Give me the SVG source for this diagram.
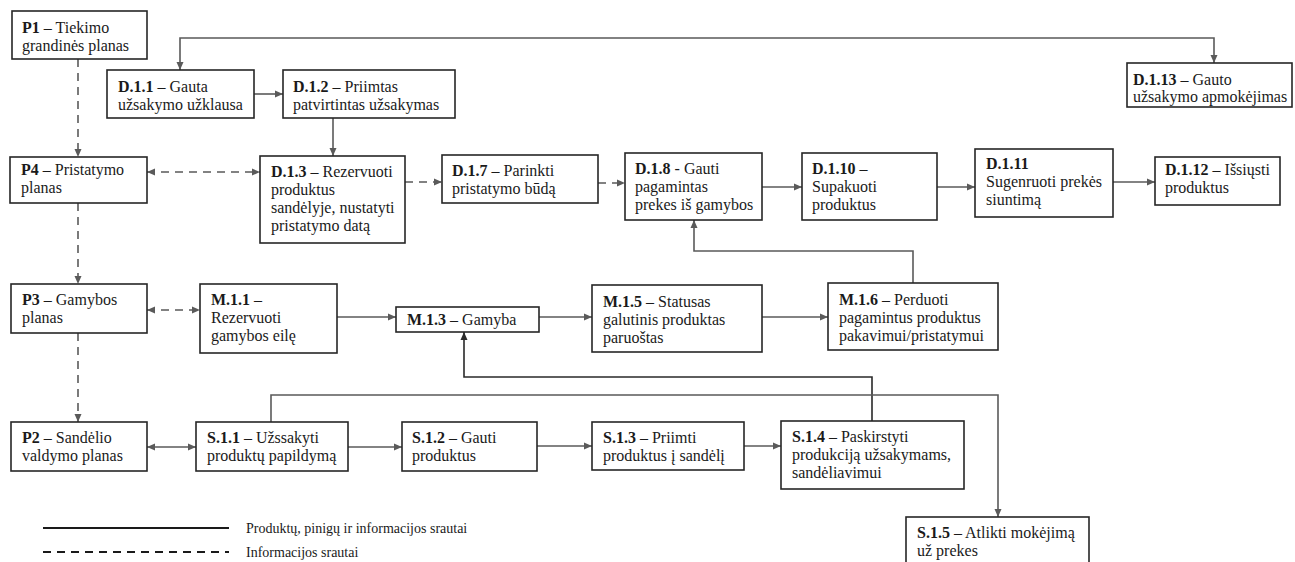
<svg xmlns="http://www.w3.org/2000/svg" width="1295" height="562" viewBox="0 0 1295 562">
  <style>
    .box { fill: #ffffff; stroke: #262626; stroke-width: 1.6; }
    .t { font-family: "Liberation Serif", "Times New Roman", serif; font-size: 16px; fill: #1a1a1a; }
    .t tspan.b { font-weight: bold; }
    .c { fill: none; stroke: #5a5a5a; stroke-width: 1.6; }
    .c.dk { stroke: #2a2a2a; }
    .d { stroke-dasharray: 8 6; }
    .a { marker-end: url(#ah); }
    .aa { marker-end: url(#ah); marker-start: url(#ah); }
    .ad { marker-end: url(#ahd); }
    .leg { font-family: "Liberation Serif", "Times New Roman", serif; font-size: 14px; fill: #1a1a1a; }
  </style>
  <defs>
    <marker id="ah" viewBox="0 0 8 8" refX="8" refY="4" markerWidth="8" markerHeight="8" markerUnits="userSpaceOnUse" orient="auto-start-reverse">
      <path d="M0,0.5 L8,4 L0,7.5 z" fill="#5a5a5a"/>
    </marker>
    <marker id="ahd" viewBox="0 0 8 8" refX="8" refY="4" markerWidth="8" markerHeight="8" markerUnits="userSpaceOnUse" orient="auto-start-reverse">
      <path d="M0,0.5 L8,4 L0,7.5 z" fill="#2a2a2a"/>
    </marker>
  </defs>

  <g id="connectors">
    <!-- payment loop between D.1.1 and D.1.13 -->
    <path class="c aa" d="M180,70 V38 H1214 V63"/>
    <path class="c a" d="M254,94 H283"/>
    <path class="c a" d="M333,118 V156"/>
    <!-- planning (dashed) -->
    <path class="c d a" d="M78,59 V157"/>
    <path class="c d aa" d="M147,172 H260"/>
    <path class="c d a" d="M405,182 H442"/>
    <path class="c d a" d="M598,183 H625"/>
    <path class="c d a" d="M78,203 V284"/>
    <path class="c d aa" d="M147,310 H200"/>
    <path class="c d a" d="M78,333 V422"/>
    <!-- delivery chain -->
    <path class="c a" d="M762,187 H802"/>
    <path class="c a" d="M937,187 H975"/>
    <path class="c a" d="M1113,182 H1155"/>
    <path class="c a" d="M913,283 V251 H694 V220"/>
    <!-- manufacturing chain -->
    <path class="c a" d="M337,317 H396"/>
    <path class="c a" d="M539,317 H592"/>
    <path class="c a" d="M762,317 H828"/>
    <path class="c dk ad" d="M872,421 V377 H464 V332"/>
    <!-- warehouse chain -->
    <path class="c aa" d="M147,447 H196"/>
    <path class="c a" d="M348,447 H402"/>
    <path class="c a" d="M537,446 H592"/>
    <path class="c a" d="M744,446 H781"/>
    <path class="c a" d="M271,422 V395 H998 V517"/>
  </g>

  <g id="P1"><rect class="box" x="12" y="11" width="135" height="48"/>
    <text class="t" x="22" y="33"><tspan class="b">P1</tspan> – Tiekimo</text>
    <text class="t" x="22" y="51">grandinės planas</text></g>
  <g id="D1-1"><rect class="box" x="107" y="70" width="147" height="48"/>
    <text class="t" x="118" y="92"><tspan class="b">D.1.1</tspan> – Gauta</text>
    <text class="t" x="118" y="110">užsakymo užklausa</text></g>
  <g id="D1-2"><rect class="box" x="283" y="70" width="172" height="48"/>
    <text class="t" x="293" y="92"><tspan class="b">D.1.2</tspan> – Priimtas</text>
    <text class="t" x="293" y="110">patvirtintas užsakymas</text></g>
  <g id="D1-13"><rect class="box" x="1127" y="63" width="165" height="44"/>
    <text class="t" x="1133" y="85"><tspan class="b">D.1.13</tspan> – Gauto</text>
    <text class="t" x="1133" y="102">užsakymo apmokėjimas</text></g>

  <g id="P4"><rect class="box" x="10" y="157" width="137" height="46"/>
    <text class="t" x="21" y="175"><tspan class="b">P4</tspan> – Pristatymo</text>
    <text class="t" x="21" y="193">planas</text></g>
  <g id="D1-3"><rect class="box" x="260" y="156" width="145" height="87"/>
    <text class="t" x="271" y="177"><tspan class="b">D.1.3</tspan> – Rezervuoti</text>
    <text class="t" x="271" y="195">produktus</text>
    <text class="t" x="271" y="213">sandėlyje, nustatyti</text>
    <text class="t" x="271" y="231">pristatymo datą</text></g>
  <g id="D1-7"><rect class="box" x="442" y="155" width="156" height="48"/>
    <text class="t" x="452" y="176"><tspan class="b">D.1.7</tspan> – Parinkti</text>
    <text class="t" x="452" y="194">pristatymo būdą</text></g>
  <g id="D1-8"><rect class="box" x="625" y="153" width="137" height="67"/>
    <text class="t" x="635" y="174"><tspan class="b">D.1.8</tspan> - Gauti</text>
    <text class="t" x="635" y="192">pagamintas</text>
    <text class="t" x="635" y="210">prekes iš gamybos</text></g>
  <g id="D1-10"><rect class="box" x="802" y="153" width="135" height="67"/>
    <text class="t" x="812" y="174"><tspan class="b">D.1.10</tspan>  –</text>
    <text class="t" x="812" y="192">Supakuoti</text>
    <text class="t" x="812" y="210">produktus</text></g>
  <g id="D1-11"><rect class="box" x="975" y="149" width="138" height="68"/>
    <text class="t" x="986" y="169"><tspan class="b">D.1.11</tspan></text>
    <text class="t" x="986" y="187">Sugenruoti prekės</text>
    <text class="t" x="986" y="205">siuntimą</text></g>
  <g id="D1-12"><rect class="box" x="1155" y="157" width="125" height="48"/>
    <text class="t" x="1165" y="175"><tspan class="b">D.1.12</tspan> – Išsiųsti</text>
    <text class="t" x="1165" y="193">produktus</text></g>

  <g id="P3"><rect class="box" x="11" y="284" width="136" height="49"/>
    <text class="t" x="22" y="305"><tspan class="b">P3</tspan> – Gamybos</text>
    <text class="t" x="22" y="323">planas</text></g>
  <g id="M1-1"><rect class="box" x="200" y="284" width="137" height="69"/>
    <text class="t" x="211" y="305"><tspan class="b">M.1.1</tspan> –</text>
    <text class="t" x="211" y="323">Rezervuoti</text>
    <text class="t" x="211" y="341">gamybos eilę</text></g>
  <g id="M1-3"><rect class="box" x="396" y="307" width="143" height="25"/>
    <text class="t" x="407" y="325"><tspan class="b">M.1.3</tspan> – Gamyba</text></g>
  <g id="M1-5"><rect class="box" x="592" y="285" width="170" height="67"/>
    <text class="t" x="603" y="307"><tspan class="b">M.1.5</tspan> – Statusas</text>
    <text class="t" x="603" y="325">galutinis produktas</text>
    <text class="t" x="603" y="343">paruoštas</text></g>
  <g id="M1-6"><rect class="box" x="828" y="283" width="170" height="67"/>
    <text class="t" x="839" y="305"><tspan class="b">M.1.6</tspan> – Perduoti</text>
    <text class="t" x="839" y="323">pagamintus produktus</text>
    <text class="t" x="839" y="341">pakavimui/pristatymui</text></g>

  <g id="P2"><rect class="box" x="11" y="422" width="136" height="49"/>
    <text class="t" x="22" y="443"><tspan class="b">P2</tspan> – Sandėlio</text>
    <text class="t" x="22" y="461">valdymo planas</text></g>
  <g id="S1-1"><rect class="box" x="196" y="422" width="152" height="49"/>
    <text class="t" x="207" y="443"><tspan class="b">S.1.1</tspan> – Užssakyti</text>
    <text class="t" x="207" y="461">produktų papildymą</text></g>
  <g id="S1-2"><rect class="box" x="402" y="422" width="135" height="49"/>
    <text class="t" x="412" y="443"><tspan class="b">S.1.2</tspan> – Gauti</text>
    <text class="t" x="412" y="461">produktus</text></g>
  <g id="S1-3"><rect class="box" x="592" y="422" width="152" height="48"/>
    <text class="t" x="603" y="443"><tspan class="b">S.1.3</tspan> – Priimti</text>
    <text class="t" x="603" y="461">produktus į sandėlį</text></g>
  <g id="S1-4"><rect class="box" x="781" y="421" width="183" height="68"/>
    <text class="t" x="792" y="442"><tspan class="b">S.1.4</tspan> – Paskirstyti</text>
    <text class="t" x="792" y="460">produkciją užsakymams,</text>
    <text class="t" x="792" y="478">sandėliavimui</text></g>
  <g id="S1-5"><rect class="box" x="906" y="517" width="183" height="60"/>
    <text class="t" x="917" y="538"><tspan class="b">S.1.5</tspan> – Atlikti mokėjimą</text>
    <text class="t" x="917" y="556">už prekes</text></g>

  <g id="legend">
    <line x1="43" y1="528" x2="229" y2="528" stroke="#1a1a1a" stroke-width="1.8"/>
    <line x1="43" y1="552" x2="229" y2="552" stroke="#1a1a1a" stroke-width="1.8" stroke-dasharray="8 6"/>
    <text class="leg" x="246" y="533">Produktų, pinigų ir informacijos srautai</text>
    <text class="leg" x="246" y="557">Informacijos srautai</text>
  </g>
</svg>
